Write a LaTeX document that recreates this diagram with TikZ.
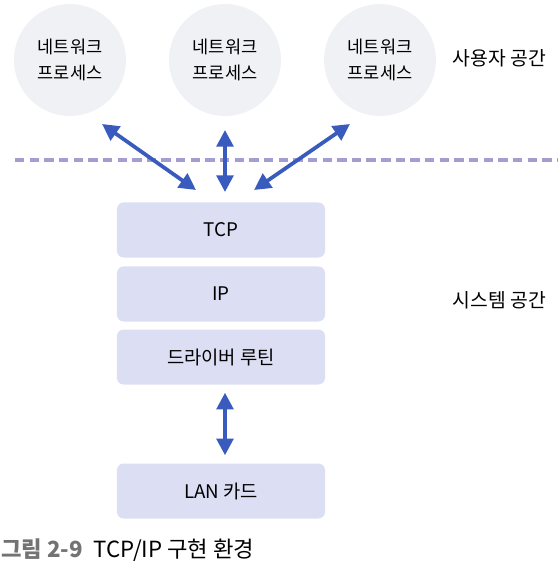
\documentclass[tikz,border=0pt]{standalone}
\usepackage{fontspec}
\setmainfont{Noto Sans CJK KR}
\usetikzlibrary{arrows.meta}
\definecolor{arrblue}{HTML}{3A5BBE}
\definecolor{dashlav}{HTML}{A29ED2}
\definecolor{boxfill}{HTML}{DCDEF3}
\definecolor{circfill}{HTML}{F0F1F5}
\tikzset{
  proc/.style={circle, fill=circfill, minimum size=3.36cm, inner sep=0pt, align=center,
    font=\fontsize{15}{21.5}\selectfont},
  layer/.style={rounded corners=0.2cm, fill=boxfill, minimum width=6.24cm, minimum height=1.65cm,
    inner sep=0pt, font=\fontsize{16}{19}\selectfont},
  space/.style={font=\fontsize{16.5}{19}\selectfont},
  arr/.style={line width=3.2pt, color=arrblue, {Triangle[length=0.5cm,width=0.5cm]}-{Triangle[length=0.5cm,width=0.5cm]}}
}
\begin{document}
\begin{tikzpicture}[x=0.03cm,y=-0.03cm]
			%%%%% START %%%%%
			\useasboundingbox (0,0) rectangle (557,570);
			
			% user processes
			\node[proc] (p1) at (70, 60) {네트워크\\프로세스};
			\node[proc] (p2) at (225, 60) {네트워크\\프로세스};
			\node[proc] (p3) at (380, 60) {네트워크\\프로세스};
			\node[space, anchor=east] (usr) at (550, 58) {사용자 공간};
			
			\draw[line width=3pt, color=dashlav, dash pattern=on 8pt off 4.5pt] (15, 160) -- (557, 160);
			
			% protocol layers
			\node[layer] (tcp) at (221, 230) {TCP};
			\node[layer] (ip) at (221, 294) {IP};
			\node[layer] (drv) at (221, 357) {드라이버 루틴};
			\node[layer] (lan) at (221, 491) {LAN 카드};
			\node[space, anchor=east] (sys) at (550, 300) {시스템 공간};
			
			\coordinate (a1s) at (102, 124);
			\coordinate (a1e) at (196, 190);
			\coordinate (a3s) at (350, 124);
			\coordinate (a3e) at (254, 190);
			\draw[arr] (a1s) -- (a1e);
			\draw[arr] (p2.south |- 0,130) coordinate (a2s) -- (p2.south |- 0,192);
			\draw[arr] (a3s) -- (a3e);
			\draw[arr] ([yshift=-0.24cm]drv.south -| p2) -- ([yshift=0.24cm]lan.north -| p2);
			
			% caption
			\node[anchor=west, font=\fontsize{19}{21}\selectfont] (cap) at (-3, 550)
			  {\textcolor{black!55}{\bfseries 그림 2-9}\hspace{0.5em}TCP/IP 구현 환경};
			%%%%% END %%%%%
		\end{tikzpicture}
\end{document}
